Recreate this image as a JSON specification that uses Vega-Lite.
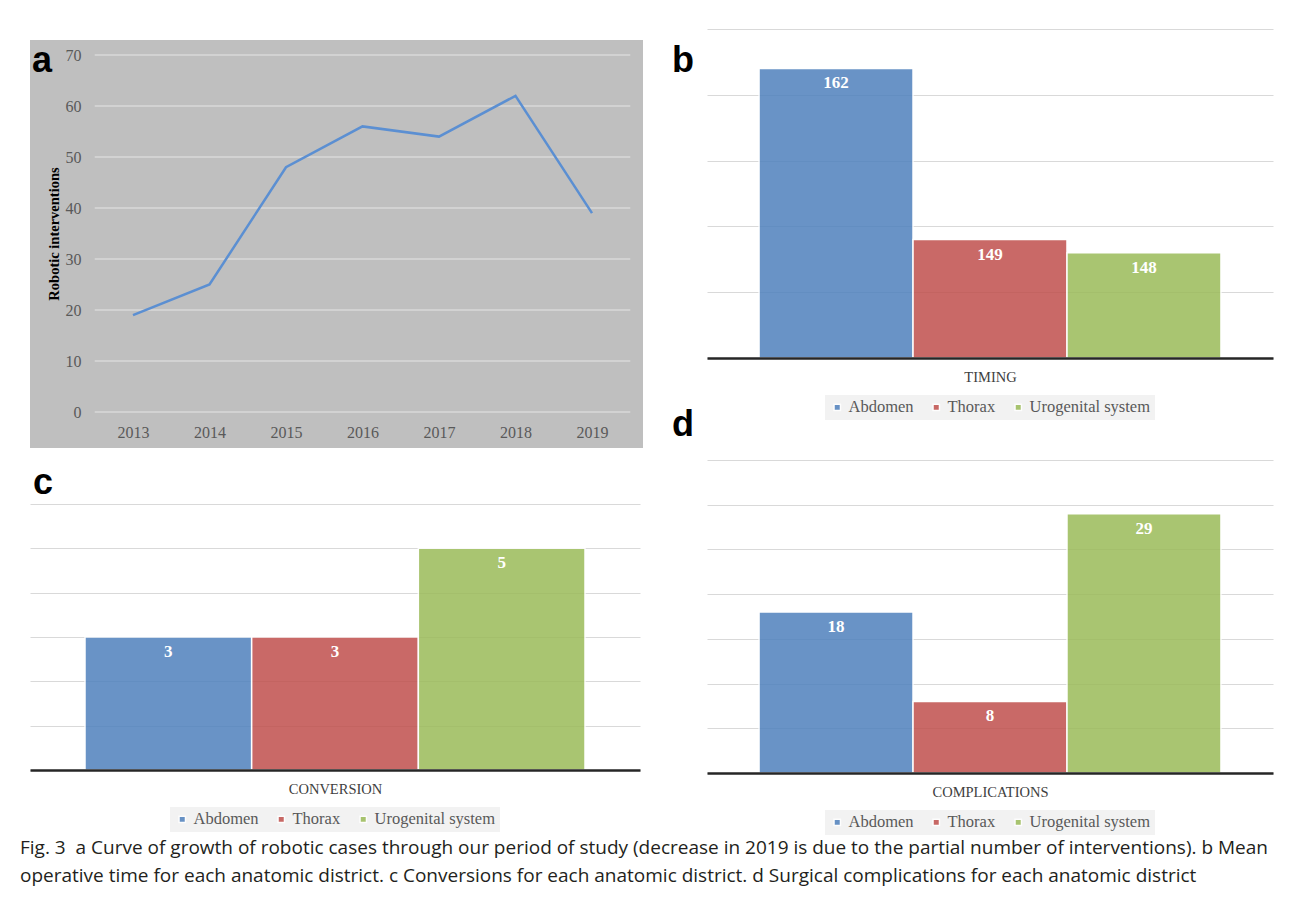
{
  "$schema": "https://vega.github.io/schema/vega-lite/v6.json",
  "background": "#ffffff",
  "padding": {"left": 20, "top": 40, "right": 20, "bottom": 8},
  "datasets": {
    "growth": [
      {"year": 2013, "n": 19}, {"year": 2014, "n": 25}, {"year": 2015, "n": 48},
      {"year": 2016, "n": 56}, {"year": 2017, "n": 54}, {"year": 2018, "n": 62}, {"year": 2019, "n": 39}
    ],
    "gridA": [{"g": 0}, {"g": 10}, {"g": 20}, {"g": 30}, {"g": 40}, {"g": 50}, {"g": 60}, {"g": 70}],
    "timing": [
      {"district": "Abdomen", "value": 162}, {"district": "Thorax", "value": 149}, {"district": "Urogenital system", "value": 148}
    ],
    "conversion": [
      {"district": "Abdomen", "value": 3}, {"district": "Thorax", "value": 3}, {"district": "Urogenital system", "value": 5}
    ],
    "complications": [
      {"district": "Abdomen", "value": 18}, {"district": "Thorax", "value": 8}, {"district": "Urogenital system", "value": 29}
    ]
  },
  "title": {
    "text": [
      "Fig. 3\u00a0\u00a0a Curve of growth of robotic cases through our period of study (decrease in 2019 is due to the partial number of interventions). b Mean",
      "operative time for each anatomic district. c Conversions for each anatomic district. d Surgical complications for each anatomic district"
    ],
    "orient": "bottom", "anchor": "start", "font": "Open Sans", "fontSize": 19, "fontWeight": "normal",
    "color": "#231f20", "lineHeight": 28, "offset": 4, "dx": -10
  },
  "columns": 2,
  "bounds": "flush",
  "spacing": {"row": 56, "column": 64},
  "resolve": {"scale": {"color": "independent"}, "legend": {"color": "independent"}},
  "concat": [
    {
      "width": 613, "height": 408,
      "view": {"fill": "#bfbfbf", "stroke": null},
      "title": {"text": "a", "anchor": "start", "frame": "group", "font": "Liberation Sans", "fontSize": 36, "fontWeight": "bold", "color": "#000000", "baseline": "alphabetic", "offset": 0, "dx": 2, "dy": 68},
      "layer": [
        {
          "data": {"name": "gridA"},
          "mark": {"type": "rule", "color": "#d9d9d9", "strokeWidth": 1.5},
          "encoding": {
            "y": {"field": "g", "type": "quantitative", "scale": {"domain": [0, 70], "range": [372, 15], "nice": false, "zero": false},
              "axis": {"title": "Robotic interventions", "orient": "left", "offset": -53, "values": [0, 10, 20, 30, 40, 50, 60, 70], "tickCount": 20, "grid": false, "domain": false, "ticks": false, "labelFlush": false, "labelPadding": 2, "labelFont": "Liberation Serif", "labelFontSize": 16, "labelColor": "#595959", "titleFont": "Liberation Serif", "titleFontSize": 14.5, "titleFontWeight": "bold", "titleColor": "#000000", "titlePadding": 4}},
            "x": {"datum": 2012.5, "type": "quantitative", "scale": {"domain": [2013, 2019], "range": [103, 562], "nice": false, "zero": false},
              "axis": {"title": null, "orient": "bottom", "offset": -24, "values": [2013, 2014, 2015, 2016, 2017, 2018, 2019], "format": "d", "grid": false, "domain": false, "ticks": false, "labelFlush": false, "labelPadding": 0, "labelFont": "Liberation Serif", "labelFontSize": 16, "labelColor": "#595959"}},
            "x2": {"datum": 2019.5}
          }
        },
        {
          "data": {"name": "growth"},
          "mark": {"type": "line", "color": "#5b8fd2", "strokeWidth": 2.5},
          "encoding": {
            "x": {"field": "year", "type": "quantitative",
              "axis": {"title": null, "orient": "bottom", "offset": -24, "values": [2013, 2014, 2015, 2016, 2017, 2018, 2019], "format": "d", "grid": false, "domain": false, "ticks": false, "labelFlush": false, "labelPadding": 0, "labelFont": "Liberation Serif", "labelFontSize": 16, "labelColor": "#595959"}},
            "y": {"field": "n", "type": "quantitative",
              "axis": {"title": "Robotic interventions", "orient": "left", "offset": -53, "values": [0, 10, 20, 30, 40, 50, 60, 70], "tickCount": 20, "grid": false, "domain": false, "ticks": false, "labelFlush": false, "labelPadding": 2, "labelFont": "Liberation Serif", "labelFontSize": 16, "labelColor": "#595959", "titleFont": "Liberation Serif", "titleFontSize": 14.5, "titleFontWeight": "bold", "titleColor": "#000000", "titlePadding": 4}}
          }
        }
      ]
    },
    {
      "width": 566, "height": 318,
      "data": {"name": "timing"},
      "title": {"text": "b", "anchor": "start", "frame": "group", "font": "Liberation Sans", "fontSize": 36, "fontWeight": "bold", "color": "#000000", "baseline": "alphabetic", "offset": 0, "dx": -35, "dy": 68},
      "encoding": {
        "x": {"field": "district", "type": "nominal", "sort": null, "scale": {"paddingInner": 0, "paddingOuter": 0.338},
          "axis": {"title": "TIMING", "labels": false, "ticks": false, "domainColor": "#262626", "domainWidth": 2.5, "titleFont": "Liberation Serif", "titleFontSize": 14.5, "titleFontWeight": "normal", "titleColor": "#404040", "titlePadding": 12, "zindex": 1}}
      },
      "layer": [
        {
          "mark": {"type": "bar", "opacity": 0.85, "stroke": "#ffffff", "strokeWidth": 1.5},
          "encoding": {
            "y": {"field": "value", "type": "quantitative", "scale": {"domain": [140, 165], "range": [318, -11], "nice": false, "zero": false},
              "axis": {"title": null, "labels": false, "ticks": false, "domain": false, "grid": true, "gridColor": "#d9d9d9", "gridWidth": 1.2, "values": [140, 145, 150, 155, 160, 165], "tickCount": 20}},
            "y2": {"datum": 140},
            "color": {"field": "district", "type": "nominal", "sort": null, "scale": {"domain": ["Abdomen", "Thorax", "Urogenital system"], "range": ["#4f81bd", "#c0504d", "#9bbb59"]}, "legend": {"title": null}}
          }
        },
        {
          "mark": {"type": "text", "color": "#ffffff", "font": "Liberation Serif", "fontSize": 17, "fontWeight": "bold", "baseline": "middle", "dy": 15},
          "encoding": {
            "y": {"field": "value", "type": "quantitative"},
            "text": {"field": "value", "type": "quantitative"}
          }
        }
      ]
    },
    {
      "width": 610, "height": 266,
      "data": {"name": "conversion"},
      "title": {"text": "c", "anchor": "start", "frame": "group", "font": "Liberation Sans", "fontSize": 36, "fontWeight": "bold", "color": "#000000", "baseline": "alphabetic", "offset": 0, "dx": 3, "dy": 26},
      "encoding": {
        "x": {"field": "district", "type": "nominal", "sort": null, "scale": {"paddingInner": 0, "paddingOuter": 0.33},
          "axis": {"title": "CONVERSION", "labels": false, "ticks": false, "domainColor": "#262626", "domainWidth": 2.5, "titleFont": "Liberation Serif", "titleFontSize": 14.5, "titleFontWeight": "normal", "titleColor": "#404040", "titlePadding": 12, "zindex": 1}}
      },
      "layer": [
        {
          "mark": {"type": "bar", "opacity": 0.85, "stroke": "#ffffff", "strokeWidth": 1.5},
          "encoding": {
            "y": {"field": "value", "type": "quantitative", "scale": {"domain": [0, 6], "nice": false},
              "axis": {"title": null, "labels": false, "ticks": false, "domain": false, "grid": true, "gridColor": "#d9d9d9", "gridWidth": 1.2, "values": [0, 1, 2, 3, 4, 5, 6], "tickCount": 20}},
            "color": {"field": "district", "type": "nominal", "sort": null, "scale": {"domain": ["Abdomen", "Thorax", "Urogenital system"], "range": ["#4f81bd", "#c0504d", "#9bbb59"]}, "legend": {"title": null}}
          }
        },
        {
          "mark": {"type": "text", "color": "#ffffff", "font": "Liberation Serif", "fontSize": 17, "fontWeight": "bold", "baseline": "middle", "dy": 15},
          "encoding": {
            "y": {"field": "value", "type": "quantitative"},
            "text": {"field": "value", "type": "quantitative"}
          }
        }
      ]
    },
    {
      "width": 566, "height": 269,
      "data": {"name": "complications"},
      "title": {"text": "d", "anchor": "start", "frame": "group", "font": "Liberation Sans", "fontSize": 36, "fontWeight": "bold", "color": "#000000", "baseline": "alphabetic", "offset": 0, "dx": -35, "dy": -32},
      "encoding": {
        "x": {"field": "district", "type": "nominal", "sort": null, "scale": {"paddingInner": 0, "paddingOuter": 0.338},
          "axis": {"title": "COMPLICATIONS", "labels": false, "ticks": false, "domainColor": "#262626", "domainWidth": 2.5, "titleFont": "Liberation Serif", "titleFontSize": 14.5, "titleFontWeight": "normal", "titleColor": "#404040", "titlePadding": 12, "zindex": 1}}
      },
      "layer": [
        {
          "mark": {"type": "bar", "opacity": 0.85, "stroke": "#ffffff", "strokeWidth": 1.5},
          "encoding": {
            "y": {"field": "value", "type": "quantitative", "scale": {"domain": [0, 35], "range": [269, -44], "nice": false},
              "axis": {"title": null, "labels": false, "ticks": false, "domain": false, "grid": true, "gridColor": "#d9d9d9", "gridWidth": 1.2, "values": [0, 5, 10, 15, 20, 25, 30, 35], "tickCount": 20}},
            "color": {"field": "district", "type": "nominal", "sort": null, "scale": {"domain": ["Abdomen", "Thorax", "Urogenital system"], "range": ["#4f81bd", "#c0504d", "#9bbb59"]}, "legend": {"title": null}}
          }
        },
        {
          "mark": {"type": "text", "color": "#ffffff", "font": "Liberation Serif", "fontSize": 17, "fontWeight": "bold", "baseline": "middle", "dy": 15},
          "encoding": {
            "y": {"field": "value", "type": "quantitative"},
            "text": {"field": "value", "type": "quantitative"}
          }
        }
      ]
    }
  ],
  "config": {
    "view": {"stroke": null},
    "legend": {
      "orient": "bottom", "direction": "horizontal", "symbolType": "square", "symbolSize": 42,
      "labelFont": "Liberation Serif", "labelFontSize": 16.5, "labelColor": "#595959",
      "fillColor": "#f2f2f2", "padding": 4, "columnPadding": 14, "labelOffset": 3, "offset": 11,
      "layout": {"bottom": {"anchor": "middle"}}
    }
  }
}
